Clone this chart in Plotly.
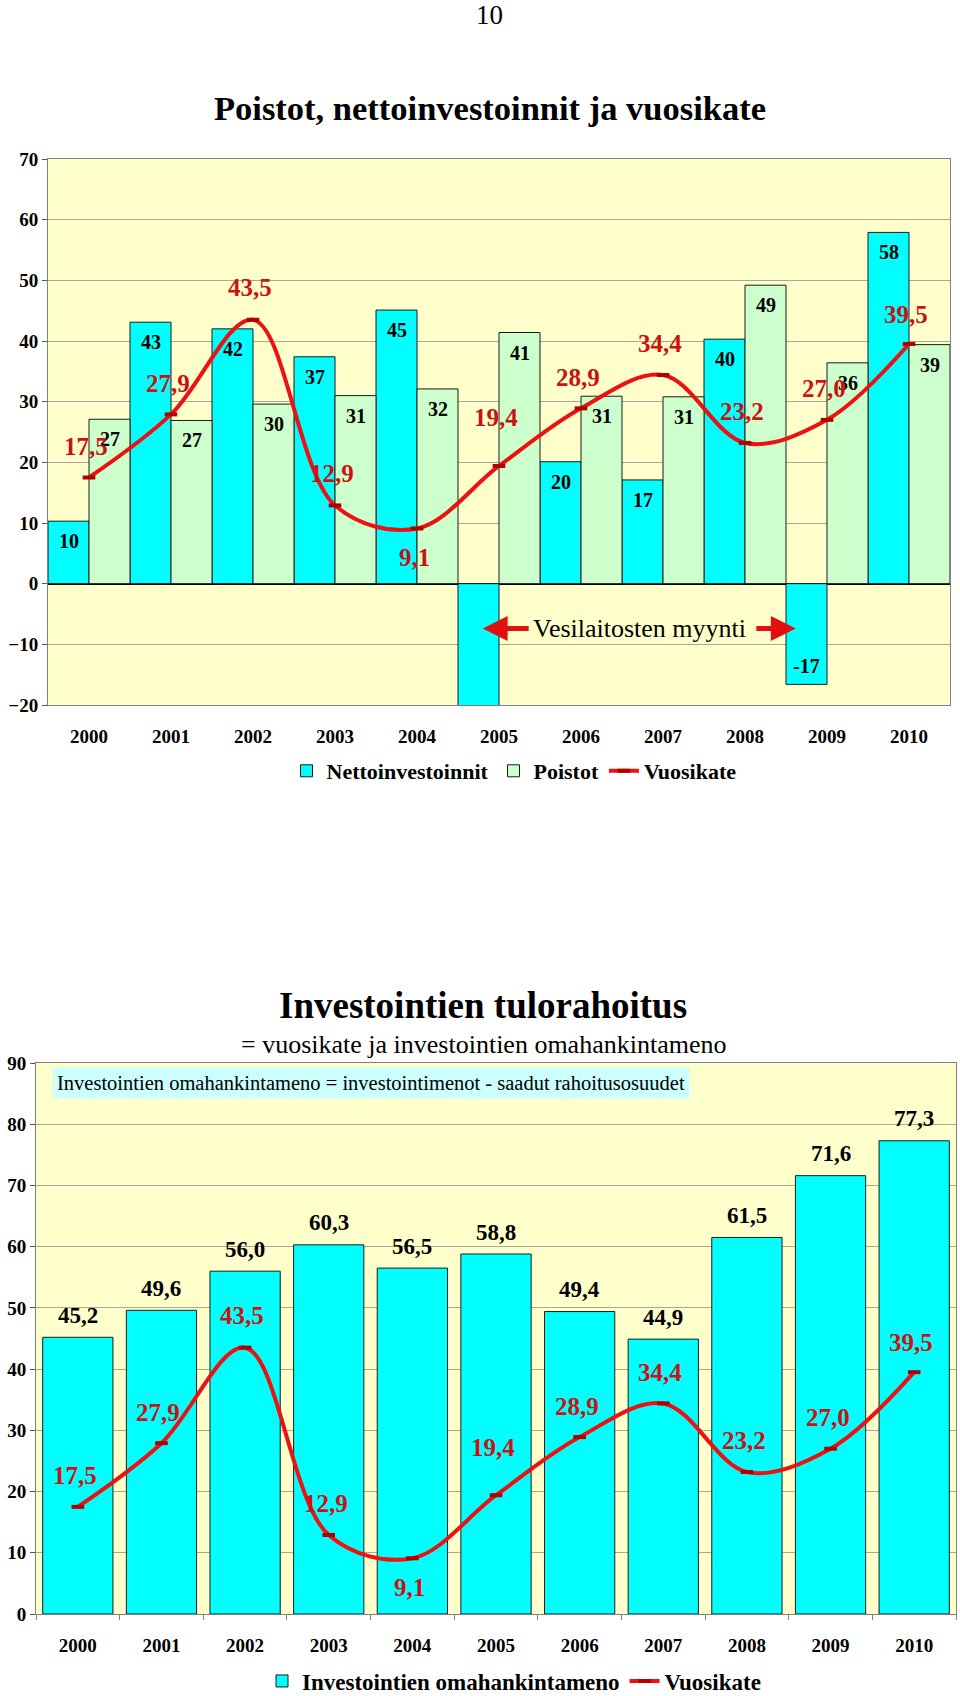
import plotly.graph_objects as go

# ---------------- data ----------------
years = ['2000', '2001', '2002', '2003', '2004', '2005', '2006', '2007', '2008', '2009', '2010']
nettoinvestoinnit = [10.3, 43.1, 42.0, 37.4, 45.1, -24.0, 20.1, 17.1, 40.3, -16.6, 57.9]
poistot = [27.1, 26.9, 29.6, 31.0, 32.1, 41.4, 30.9, 30.8, 49.2, 36.4, 39.4]
vuosikate = [17.5, 27.9, 43.5, 12.9, 9.1, 19.4, 28.9, 34.4, 23.2, 27.0, 39.5]
omahankintameno = [45.2, 49.6, 56.0, 60.3, 56.5, 58.8, 49.4, 44.9, 61.5, 71.6, 77.3]

y1_ticks = [-20, -10, 0, 10, 20, 30, 40, 50, 60, 70]
y2_ticks = [0, 10, 20, 30, 40, 50, 60, 70, 80, 90]

# ---------------- style ----------------
W, H = 960, 1696
SERIF = 'Liberation Serif'
CYAN = '#00FFFF'
GREEN = '#CCFFCC'
RED_LINE = '#EE1111'
RED_TXT = '#CC1111'
PLOT_BG = '#FFFFCC'
GRID = '#A8A898'
vk_shift = [31, 31, 32, 32, -29, 48, 31, 31, 31, 31, 30]


def fmt(v):
    return f"{v:.1f}".replace('.', ',')


def py(ypix):
    return 1 - ypix / H


fig = go.Figure()

# ---------- chart 1 ----------
fig.add_trace(go.Bar(
    x=years, y=nettoinvestoinnit, name='Nettoinvestoinnit',
    marker=dict(color=CYAN, line=dict(color='#1a1a1a', width=1)),
    width=0.5, offset=-0.5, xaxis='x', yaxis='y', legend='legend'))
fig.add_trace(go.Bar(
    x=years, y=poistot, name='Poistot',
    marker=dict(color=GREEN, line=dict(color='#1a1a1a', width=1)),
    width=0.5, offset=0.0, xaxis='x', yaxis='y', legend='legend'))
fig.add_trace(go.Scatter(
    x=years, y=vuosikate, name='Vuosikate', mode='lines+markers',
    line=dict(color=RED_LINE, width=4, shape='spline', smoothing=1.0),
    marker=dict(symbol='line-ew', size=9, line=dict(color='#B00000', width=4)),
    xaxis='x', yaxis='y', legend='legend'))

# ---------- chart 2 ----------
fig.add_trace(go.Bar(
    x=years, y=omahankintameno, name='Investointien omahankintameno',
    marker=dict(color=CYAN, line=dict(color='#1a1a1a', width=1)),
    width=0.84, xaxis='x2', yaxis='y2', legend='legend2'))
fig.add_trace(go.Scatter(
    x=years, y=vuosikate, name='Vuosikate', mode='lines+markers',
    line=dict(color=RED_LINE, width=4, shape='spline', smoothing=1.0),
    marker=dict(symbol='line-ew', size=9, line=dict(color='#B00000', width=4)),
    xaxis='x2', yaxis='y2', legend='legend2'))

annotations = []
lab_font = dict(family=SERIF, size=20, color='black', weight='bold')
red_font = dict(family=SERIF, size=25, color=RED_TXT, weight='bold')

# bar labels chart 1
for i, v in enumerate(nettoinvestoinnit):
    if v < y1_ticks[0]:
        continue
    annotations.append(dict(x=i - 0.25, y=v, xref='x', yref='y', text=str(round(v)),
                            yanchor='middle', showarrow=False,
                            yshift=-20 if v >= 0 else 18, font=lab_font))
for i, v in enumerate(poistot):
    annotations.append(dict(x=i + 0.25, y=v, xref='x', yref='y', text=str(round(v)),
                            yanchor='middle', showarrow=False, yshift=-20, font=lab_font))
for i, v in enumerate(vuosikate):
    annotations.append(dict(x=i, y=v, xref='x', yref='y', text=fmt(v), xshift=-3,
                            yanchor='middle', showarrow=False, yshift=vk_shift[i], font=red_font))

# bar labels chart 2
lab2_font = dict(family=SERIF, size=23, color='black', weight='bold')
for i, v in enumerate(omahankintameno):
    annotations.append(dict(x=i, y=v, xref='x2', yref='y2', text=fmt(v),
                            yanchor='middle', showarrow=False, yshift=22, font=lab2_font))
for i, v in enumerate(vuosikate):
    annotations.append(dict(x=i, y=v, xref='x2', yref='y2', text=fmt(v), xshift=-3,
                            yanchor='middle', showarrow=False, yshift=vk_shift[i], font=red_font))

# Vesilaitosten myynti note with arrows
annotations.append(dict(x=6.71, y=-7.4, xref='x', yref='y', text='Vesilaitosten myynti',
                        xanchor='center', yanchor='middle',
                        showarrow=False, font=dict(family=SERIF, size=26, color='black')))
annotations.append(dict(x=4.80, y=-7.4, xref='x', yref='y', ax=5.38, ay=-7.4,
                        axref='x', ayref='y', text='', showarrow=True, arrowhead=2,
                        arrowsize=1.0, arrowwidth=5, arrowcolor='#E01010'))
annotations.append(dict(x=8.62, y=-7.4, xref='x', yref='y', ax=8.12, ay=-7.4,
                        axref='x', ayref='y', text='', showarrow=True, arrowhead=2,
                        arrowsize=1.0, arrowwidth=5, arrowcolor='#E01010'))


# page number and titles
def paper_text(x, y, text, font, **kw):
    d = dict(x=x / W, y=py(y), xref='paper', yref='paper', text=text, showarrow=False,
             xanchor='center', yanchor='middle', font=font)
    d.update(kw)
    annotations.append(d)


paper_text(490, 15, '10', dict(family=SERIF, size=27, color='black'))
paper_text(490, 108, 'Poistot, nettoinvestoinnit ja vuosikate',
           dict(family=SERIF, size=34.5, color='black', weight='bold'))
paper_text(483, 1005, 'Investointien tulorahoitus',
           dict(family=SERIF, size=37, color='black', weight='bold'))
paper_text(483, 1044, '= vuosikate ja investointien omahankintameno',
           dict(family=SERIF, size=26, color='black'))
paper_text(52, 1083, 'Investointien omahankintameno = investointimenot - saadut rahoitusosuudet',
           dict(family=SERIF, size=20.5, color='black'),
           xanchor='left', bgcolor='#CCFFFF', borderpad=4)

tickfont = dict(family=SERIF, size=19, color='black', weight='bold')

fig.update_layout(
    template='none',
    width=W, height=H, margin=dict(l=0, r=0, t=0, b=0, autoexpand=False),
    paper_bgcolor='white', plot_bgcolor=PLOT_BG,
    barmode='overlay', showlegend=True,
    annotations=annotations,
    xaxis=dict(domain=[48 / W, 950 / W], anchor='y', type='category', range=[-0.5, 10.5],
               automargin=False,
               showline=True, linecolor='#808080', mirror=True, showgrid=False,
               tickfont=tickfont, ticks='', ticklabelstandoff=14),
    yaxis=dict(domain=[py(705), py(159)], anchor='x', range=[-20, 70], automargin=False,
               tickvals=y1_ticks, tickfont=tickfont, ticks='outside', ticklen=5,
               tickcolor='#555555', showline=True, linecolor='#808080', mirror=True,
               showgrid=True, gridcolor=GRID, gridwidth=1,
               zeroline=True, zerolinecolor='black', zerolinewidth=1.5),
    xaxis2=dict(domain=[36 / W, 956 / W], anchor='y2', type='category', range=[-0.5, 10.5],
                automargin=False,
                showline=True, linecolor='#808080', mirror=True, showgrid=False,
                tickfont=tickfont, ticks='outside', tickson='boundaries', ticklen=5,
                tickcolor='#808080', ticklabelstandoff=14),
    yaxis2=dict(domain=[py(1614), py(1063)], anchor='x2', range=[0, 90], automargin=False,
                tickvals=y2_ticks, tickfont=tickfont, ticks='outside', ticklen=5,
                tickcolor='#555555', showline=True, linecolor='#808080', mirror=True,
                showgrid=True, gridcolor=GRID, gridwidth=1, zeroline=False),
    legend=dict(orientation='h', x=514 / W, xanchor='center', y=py(771), yanchor='middle',
                font=dict(family=SERIF, size=22, color='black', weight='bold'),
                bgcolor='rgba(0,0,0,0)', borderwidth=0, itemwidth=30, tracegroupgap=0),
    legend2=dict(orientation='h', x=514 / W, xanchor='center', y=py(1681), yanchor='middle',
                 font=dict(family=SERIF, size=23, color='black', weight='bold'),
                 bgcolor='rgba(0,0,0,0)', borderwidth=0, itemwidth=30, tracegroupgap=0),
)

fig.write_html('out.html', config={'displayModeBar': False},
               post_script="document.body.style.margin='0px';")
